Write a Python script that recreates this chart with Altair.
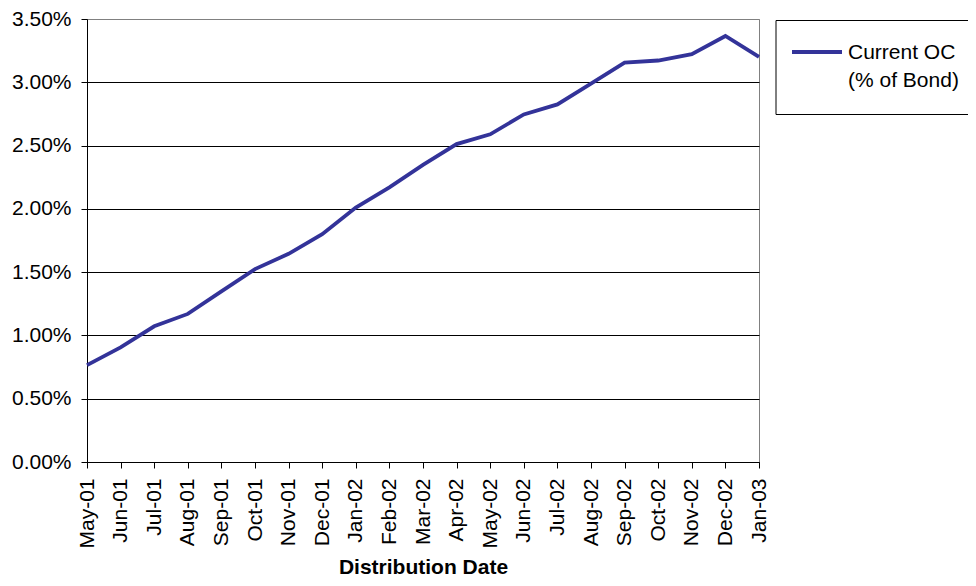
import altair as alt
import pandas as pd

months = ["May-01", "Jun-01", "Jul-01", "Aug-01", "Sep-01", "Oct-01", "Nov-01",
          "Dec-01", "Jan-02", "Feb-02", "Mar-02", "Apr-02", "May-02", "Jun-02",
          "Jul-02", "Aug-02", "Sep-02", "Oct-02", "Nov-02", "Dec-02", "Jan-03"]
oc_pct = [0.765, 0.906, 1.072, 1.170, 1.348, 1.524, 1.645, 1.800, 2.010, 2.170,
          2.347, 2.512, 2.589, 2.746, 2.825, 2.990, 3.156, 3.172, 3.222, 3.366, 3.200]
y_ticks = [0.0, 0.005, 0.01, 0.015, 0.02, 0.025, 0.03, 0.035]
legend_lines = ["Current OC", "(% of Bond)"]

FONT = "Liberation Sans"
LINE_COLOR = "#333399"

df = pd.DataFrame({"month": months, "oc": [v / 100 for v in oc_pct]})
one = pd.DataFrame({"k": [0]})

line = alt.Chart(df).mark_line(color=LINE_COLOR, strokeWidth=3.8).encode(
    x=alt.X("month:N", sort=None,
            scale=alt.Scale(type="point", padding=0),
            axis=alt.Axis(title="Distribution Date", labelAngle=270, labelFontSize=21,
                          labelFont=FONT, labelColor="black", tickColor="black",
                          tickSize=6, labelPadding=10, domainColor="black",
                          titleFontSize=21, titleFont=FONT, titleFontWeight="bold",
                          titleColor="black", titleBaseline="alphabetic", titleY=111,
                          grid=False, labelOverlap=False)),
    y=alt.Y("oc:Q",
            scale=alt.Scale(domain=[0, 0.035], nice=False, zero=True),
            axis=alt.Axis(title=None, values=y_ticks, format=".2%", labelFontSize=21,
                          labelFont=FONT, labelColor="black", tickColor="black",
                          tickSize=6, labelPadding=10, domainColor="black",
                          gridColor=alt.condition("datum.value >= 0.0349",
                                                  alt.value("#808080"), alt.value("black")),
                          gridOpacity=1)),
)

box = alt.Chart(one).mark_rect(fill="white", stroke="black", strokeWidth=1).encode(
    x=alt.value(689), x2=alt.value(900), y=alt.value(1.5), y2=alt.value(95.5))
sym = alt.Chart(one).mark_rule(color=LINE_COLOR, strokeWidth=3.8).encode(
    x=alt.value(705), x2=alt.value(755), y=alt.value(33))
txt = alt.Chart(one).mark_text(align="left", baseline="alphabetic", fontSize=21, font=FONT,
                               lineHeight=27.4, color="black").encode(
    x=alt.value(761), y=alt.value(40.3), text=alt.value(legend_lines))

chart = alt.layer(line, box, sym, txt).properties(
    width=672, height=443,
    autosize=alt.AutoSizeParams(type="none"),
    padding={"left": 79, "top": 11, "right": 209, "bottom": 116},
).configure_view(stroke="#808080", strokeWidth=1)

chart.save("out.html", embed_options={"renderer": "svg", "actions": False})
